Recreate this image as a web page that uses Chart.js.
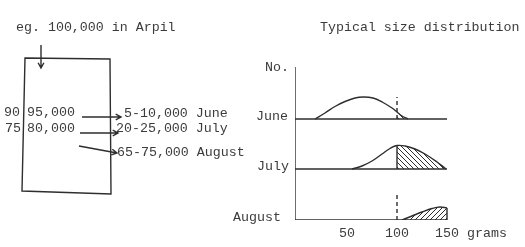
<!DOCTYPE html>
<html>
<head>
<meta charset="utf-8">
<script src="https://cdn.jsdelivr.net/npm/chart.js@4.4.0/dist/chart.umd.min.js"></script>
<style>
  html, body { margin: 0; padding: 0; background: #fff; }
  canvas { display: block; }
</style>
</head>
<body>
<canvas id="sizeChart" width="525" height="247"></canvas>
<script>
// size distribution by month (grams vs relative number)
const juneGrams = [18, 28, 38, 48, 58, 66, 76, 86, 95, 100, 105, 111];
const juneCount = [0, 6, 12.5, 17.5, 21, 22, 21, 16.5, 11, 7, 3, 0];
const julyGrams = [55, 65, 75, 85, 93, 100, 108, 118, 128, 140, 149];
const julyCount = [0, 3, 8, 15, 20.5, 23.5, 23, 20, 15, 7, 0];
const augGrams = [105, 115, 125, 135, 143, 150];
const augCount = [0, 4, 8, 11.5, 13, 12];
const months = ['June', 'July', 'August'];
const cutoff = 100;
const xTicks = [50, 100, 150];

// rows stacked one above the other
const rowBase = { June: 101, July: 51, August: 0 };
const labelX = { June: 256, July: 257, August: 233 };
const ink = '#2e2e2e';
const textInk = '#3c3c3c';
const mono = '13.3px "Liberation Mono", "DejaVu Sans Mono", monospace';

function hatch(dir) {
  const s = 5;
  const c = document.createElement('canvas');
  c.width = s; c.height = s;
  const g = c.getContext('2d');
  g.strokeStyle = ink;
  g.lineWidth = 1;
  g.beginPath();
  if (dir === '/') {
    g.moveTo(0, s); g.lineTo(s, 0);
    g.moveTo(-1, 1); g.lineTo(1, -1);
    g.moveTo(s - 1, s + 1); g.lineTo(s + 1, s - 1);
  } else {
    g.moveTo(0, 0); g.lineTo(s, s);
    g.moveTo(-1, s - 1); g.lineTo(1, s + 1);
    g.moveTo(s - 1, -1); g.lineTo(s + 1, 1);
  }
  g.stroke();
  return g.createPattern(c, 'repeat');
}

const pts = (gr, cnt, base) => gr.map((x, i) => ({ x: x, y: base + cnt[i] }));
const over = (arr) => arr.filter(p => p.x >= cutoff);

const curve = (data) => ({
  data: data, borderColor: ink, borderWidth: 1.4, pointRadius: 0,
  fill: false, tension: 0.4
});
const shade = (data, base, dir) => ({
  data: data, borderWidth: 0, pointRadius: 0,
  backgroundColor: hatch(dir), fill: { value: base }, tension: 0.4
});
const straight = (data, dash) => ({
  data: data, borderColor: ink, borderWidth: 1.4, pointRadius: 0,
  fill: false, tension: 0, borderDash: dash || []
});

const junePts = pts(juneGrams, juneCount, rowBase.June);
const julyPts = pts(julyGrams, julyCount, rowBase.July);
const augPts = pts(augGrams, augCount, rowBase.August);

const datasets = [
  curve(junePts), curve(julyPts), curve(augPts),
  shade(over(junePts), rowBase.June, '\\'),
  shade(over(julyPts), rowBase.July, '\\'),
  shade(augPts, rowBase.August, '/'),
  // dashed 100 g marks
  straight([{ x: cutoff, y: rowBase.June }, { x: cutoff, y: rowBase.June + 22 }], [4, 3]),
  straight([{ x: cutoff, y: rowBase.August }, { x: cutoff, y: rowBase.August + 25 }], [4, 3]),
  // edges of hatched parts
  straight([{ x: cutoff, y: rowBase.July }, { x: cutoff, y: rowBase.July + 23.5 }]),
  straight([{ x: 150, y: rowBase.August }, { x: 150, y: rowBase.August + 12 }]),
  // axes
  straight([{ x: -2, y: 0 }, { x: -2, y: 153 }]),
  straight([{ x: -2, y: rowBase.June }, { x: 150, y: rowBase.June }]),
  straight([{ x: -2, y: rowBase.July }, { x: 150, y: rowBase.July }]),
  straight([{ x: -2, y: rowBase.August }, { x: 150, y: rowBase.August }])
];

function arrow(ctx, x1, y1, x2, y2) {
  const a = Math.atan2(y2 - y1, x2 - x1);
  const h = 6;
  ctx.beginPath();
  ctx.moveTo(x1, y1); ctx.lineTo(x2, y2);
  ctx.moveTo(x2 - h * Math.cos(a - 0.5), y2 - h * Math.sin(a - 0.5));
  ctx.lineTo(x2, y2);
  ctx.lineTo(x2 - h * Math.cos(a + 0.5), y2 - h * Math.sin(a + 0.5));
  ctx.stroke();
}

// texts, tick labels and the left box diagram
const sketch = {
  id: 'sketch',
  afterDraw(chart) {
    const ctx = chart.ctx;
    const xs = chart.scales.x, ys = chart.scales.y;
    ctx.save();
    ctx.font = mono;
    ctx.fillStyle = textInk;
    ctx.textBaseline = 'middle';
    ctx.textAlign = 'center';
    xTicks.forEach(t => ctx.fillText(String(t), xs.getPixelForValue(t), 233));
    ctx.textAlign = 'left';
    ctx.fillText('grams', 467, 233);
    ctx.fillText('No.', 265, 67);
    ctx.fillText('Typical size distribution', 320, 27);
    months.forEach(m => ctx.fillText(m, labelX[m], ys.getPixelForValue(rowBase[m]) - 3));
    ctx.fillText('eg. 100,000 in Arpil', 16, 27);
    ctx.fillText('90', 4, 112);
    ctx.fillText('95,000', 27, 112);
    ctx.fillText('75', 5, 128);
    ctx.fillText('80,000', 27, 128);
    ctx.fillText('5-10,000 June', 124, 113);
    ctx.fillText('20-25,000 July', 116, 128);
    ctx.fillText('65-75,000 August', 117, 152);

    ctx.strokeStyle = ink;
    ctx.lineWidth = 1.4;
    ctx.beginPath();
    ctx.moveTo(25, 58); ctx.lineTo(110, 59); ctx.lineTo(111, 194);
    ctx.lineTo(22, 191); ctx.closePath();
    ctx.stroke();
    arrow(ctx, 41, 45, 41, 68);
    arrow(ctx, 82, 117, 121, 117);
    arrow(ctx, 80, 133, 118, 133);
    arrow(ctx, 79, 146, 117, 153);
    ctx.restore();
  }
};

new Chart(document.getElementById('sizeChart').getContext('2d'), {
  type: 'scatter',
  data: { datasets: datasets.map(d => Object.assign({ showLine: true }, d)) },
  options: {
    responsive: false,
    animation: false,
    layout: { padding: { left: 295, right: 76, top: 67, bottom: 27 } },
    plugins: { legend: { display: false }, tooltip: { enabled: false } },
    scales: {
      x: { type: 'linear', min: -2, max: 152, display: false },
      y: { type: 'linear', min: 0, max: 153, display: false }
    }
  },
  plugins: [sketch]
});
</script>
</body>
</html>
